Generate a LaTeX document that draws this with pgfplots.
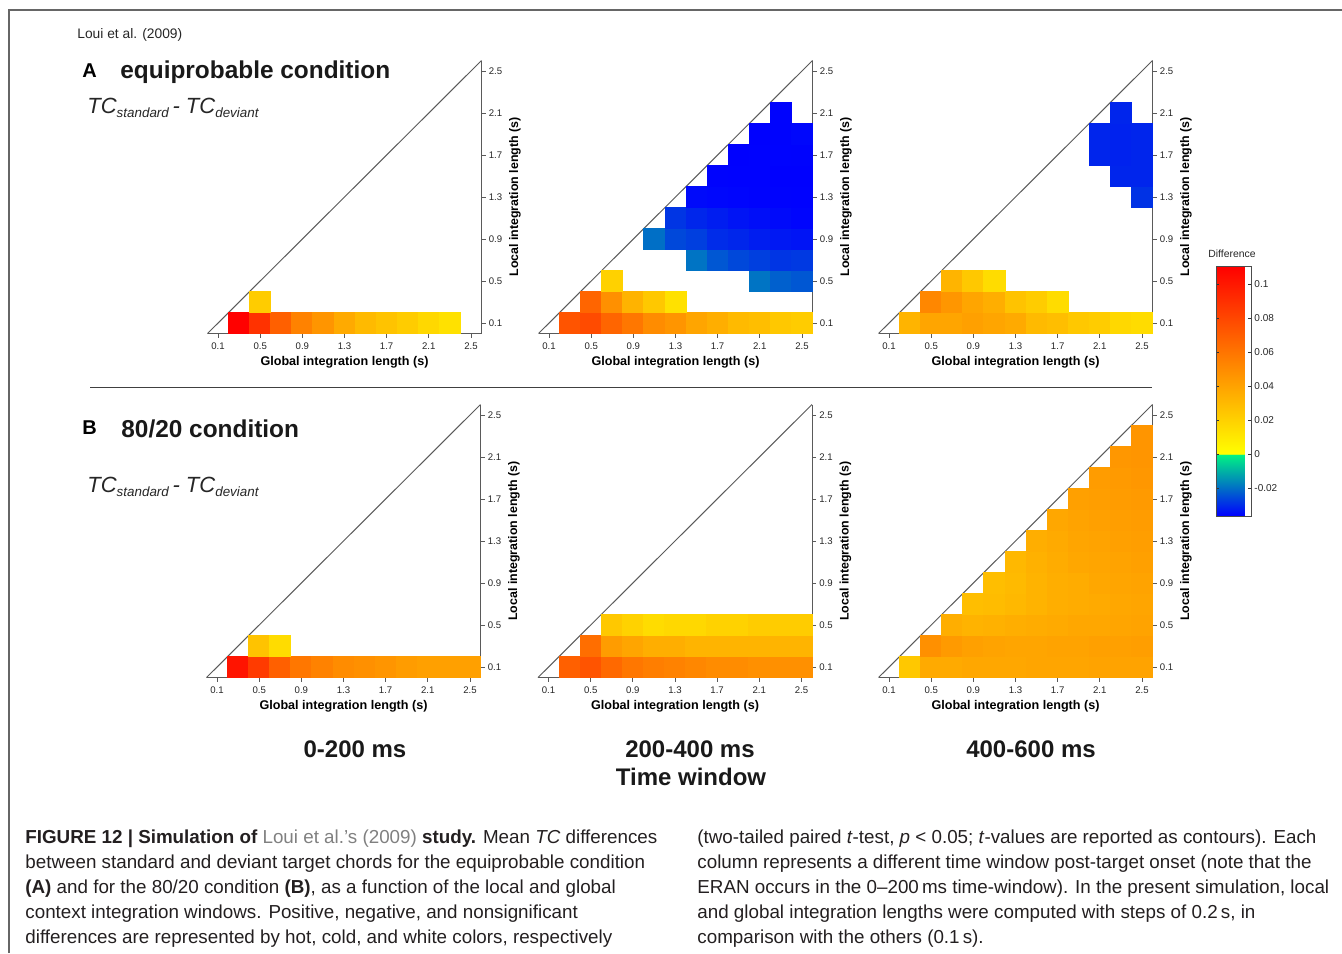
\documentclass[border=0pt]{standalone}
\usepackage{pgfplots}
\pgfplotsset{compat=1.18}
\usepackage{pgfplotstable}
\usepackage{fontspec}
\setmainfont{Liberation Sans}

\definecolor{axgray}{RGB}{90,90,90}
\definecolor{linkgray}{RGB}{128,128,128}
\definecolor{captxt}{RGB}{35,31,32}

\pgfplotsset{colormap={diffmap}{rgb255(0pt)=(0,0,255); rgb255(36.4pt)=(0,245,130); rgb255(36.5pt)=(255,255,0); rgb255(147.1pt)=(255,0,0)}}

\pgfplotsset{
 tri/.style={
  at={#1}, anchor=south west, scale only axis, width=137pt, height=136.5pt,
  xmin=0,xmax=2.6,ymin=0,ymax=2.6,
  axis x line=bottom, axis y line=right,
  axis line style={-, draw=axgray, line width=0.5pt},
  tick align=outside, major tick length=2pt,
  tick style={axgray, line width=0.4pt},
  xtick={0.1,0.5,0.9,1.3,1.7,2.1,2.5}, ytick={0.1,0.5,0.9,1.3,1.7,2.1,2.5},
  xticklabels={0.1,0.5,0.9,1.3,1.7,2.1,2.5}, yticklabels={0.1,0.5,0.9,1.3,1.7,2.1,2.5},
  tick label style={font=\fontsize{4.8}{5.5}\selectfont, text=black!85},
  xticklabel style={inner sep=2.5pt},
  yticklabel style={inner sep=1.5pt},
  xlabel={Global integration length (s)}, ylabel={Local integration length (s)},
  every axis x label/.style={at={(axis description cs:0.5,0)}, anchor=center, yshift=-14.25pt, font=\bfseries\fontsize{6.3}{7}\selectfont},
  every axis y label/.style={at={(axis description cs:1,0.5)}, xshift=16.75pt, anchor=center, rotate=90, font=\bfseries\fontsize{6.2}{7}\selectfont},
  colormap name=diffmap, point meta min=-0.0365, point meta max=0.1106,
  axis on top, clip=false,
 },
 heatcells/.style={scatter, only marks, mark=square*, mark size=5.27pt,
  scatter/use mapped color={draw=mapped color, fill=mapped color}, point meta=\thisrow{c}},
 diag/.style={axgray, line width=0.5pt, mark=none},
}

\pgfplotstableread{
x y c
0.3 0.1 0.110
0.5 0.1 0.089
0.7 0.1 0.069
0.9 0.1 0.054
1.1 0.1 0.046
1.3 0.1 0.037
1.5 0.1 0.030
1.7 0.1 0.026
1.9 0.1 0.022
2.1 0.1 0.017
2.3 0.1 0.013
0.5 0.3 0.022
}\Aone

\pgfplotstableread{
x y c
0.3 0.1 0.074
0.5 0.1 0.078
0.7 0.1 0.067
0.9 0.1 0.059
1.1 0.1 0.050
1.3 0.1 0.046
1.5 0.1 0.039
1.7 0.1 0.035
1.9 0.1 0.030
2.1 0.1 0.028
2.3 0.1 0.024
2.5 0.1 0.022
0.5 0.3 0.067
0.7 0.3 0.048
0.9 0.3 0.033
1.1 0.3 0.024
1.3 0.3 0.013
0.7 0.5 0.020
2.1 0.5 -0.0193
2.3 0.5 -0.0222
2.5 0.5 -0.0236
1.5 0.7 -0.0193
1.7 0.7 -0.0236
1.9 0.7 -0.0258
2.1 0.7 -0.0272
2.3 0.7 -0.0286
2.5 0.7 -0.0280
1.1 0.9 -0.0200
1.3 0.9 -0.0258
1.5 0.9 -0.0272
1.7 0.9 -0.0300
1.9 0.9 -0.0308
2.1 0.9 -0.0322
2.3 0.9 -0.0330
2.5 0.9 -0.0336
1.3 1.1 -0.0286
1.5 1.1 -0.0308
1.7 1.1 -0.0322
1.9 1.1 -0.0336
2.1 1.1 -0.0344
2.3 1.1 -0.0350
2.5 1.1 -0.0358
1.5 1.3 -0.0350
1.7 1.3 -0.0355
1.9 1.3 -0.0358
2.1 1.3 -0.0360
2.3 1.3 -0.0360
2.5 1.3 -0.0362
1.7 1.5 -0.0360
1.9 1.5 -0.0362
2.1 1.5 -0.0362
2.3 1.5 -0.0363
2.5 1.5 -0.0363
1.9 1.7 -0.0363
2.1 1.7 -0.0362
2.3 1.7 -0.0361
2.5 1.7 -0.0360
2.1 1.9 -0.0363
2.3 1.9 -0.0360
2.5 1.9 -0.0355
2.3 2.1 -0.0360
}\Atwo

\pgfplotstableread{
x y c
0.3 0.1 0.0325
0.5 0.1 0.039
0.7 0.1 0.039
0.9 0.1 0.041
1.1 0.1 0.039
1.3 0.1 0.037
1.5 0.1 0.030
1.7 0.1 0.028
1.9 0.1 0.024
2.1 0.1 0.022
2.3 0.1 0.017
2.5 0.1 0.015
0.5 0.3 0.052
0.7 0.3 0.0455
0.9 0.3 0.039
1.1 0.3 0.035
1.3 0.3 0.026
1.5 0.3 0.022
1.7 0.3 0.015
0.7 0.5 0.0325
0.9 0.5 0.024
1.1 0.5 0.015
2.5 1.3 -0.029
2.3 1.5 -0.031
2.5 1.5 -0.031
2.1 1.7 -0.031
2.3 1.7 -0.0315
2.5 1.7 -0.031
2.1 1.9 -0.031
2.3 1.9 -0.0315
2.5 1.9 -0.031
2.3 2.1 -0.031
}\Athree

\pgfplotstableread{
x y c
0.3 0.1 0.102
0.5 0.1 0.085
0.7 0.1 0.069
0.9 0.1 0.059
1.1 0.1 0.054
1.3 0.1 0.050
1.5 0.1 0.048
1.7 0.1 0.046
1.9 0.1 0.043
2.1 0.1 0.041
2.3 0.1 0.041
2.5 0.1 0.041
0.5 0.3 0.026
0.7 0.3 0.015
}\Bone

\pgfplotstableread{
x y c
0.3 0.1 0.069
0.5 0.1 0.074
0.7 0.1 0.065
0.9 0.1 0.059
1.1 0.1 0.056
1.3 0.1 0.054
1.5 0.1 0.052
1.7 0.1 0.050
1.9 0.1 0.050
2.1 0.1 0.048
2.3 0.1 0.048
2.5 0.1 0.048
0.5 0.3 0.063
0.7 0.3 0.043
0.9 0.3 0.039
1.1 0.3 0.035
1.3 0.3 0.035
1.5 0.3 0.0325
1.7 0.3 0.0325
1.9 0.3 0.0325
2.1 0.3 0.0325
2.3 0.3 0.0325
2.5 0.3 0.0325
0.7 0.5 0.024
0.9 0.5 0.0195
1.1 0.5 0.015
1.3 0.5 0.017
1.5 0.5 0.017
1.7 0.5 0.0195
1.9 0.5 0.0195
2.1 0.5 0.022
2.3 0.5 0.022
2.5 0.5 0.022
}\Btwo

\pgfplotstableread{
x y c
0.3 0.1 0.024
0.5 0.1 0.037
0.7 0.1 0.037
0.9 0.1 0.038
1.1 0.1 0.038
1.3 0.1 0.038
1.5 0.1 0.039
1.7 0.1 0.039
1.9 0.1 0.039
2.1 0.1 0.040
2.3 0.1 0.040
2.5 0.1 0.040
0.5 0.3 0.048
0.7 0.3 0.044
0.9 0.3 0.041
1.1 0.3 0.040
1.3 0.3 0.039
1.5 0.3 0.039
1.7 0.3 0.040
1.9 0.3 0.040
2.1 0.3 0.041
2.3 0.3 0.041
2.5 0.3 0.042
0.7 0.5 0.035
0.9 0.5 0.033
1.1 0.5 0.034
1.3 0.5 0.035
1.5 0.5 0.036
1.7 0.5 0.037
1.9 0.5 0.038
2.1 0.5 0.038
2.3 0.5 0.039
2.5 0.5 0.040
0.9 0.7 0.028
1.1 0.7 0.029
1.3 0.7 0.031
1.5 0.7 0.033
1.7 0.7 0.035
1.9 0.7 0.036
2.1 0.7 0.037
2.3 0.7 0.038
2.5 0.7 0.039
1.1 0.9 0.028
1.3 0.9 0.030
1.5 0.9 0.033
1.7 0.9 0.035
1.9 0.9 0.036
2.1 0.9 0.038
2.3 0.9 0.039
2.5 0.9 0.040
1.3 1.1 0.031
1.5 1.1 0.034
1.7 1.1 0.036
1.9 1.1 0.038
2.1 1.1 0.039
2.3 1.1 0.040
2.5 1.1 0.041
1.5 1.3 0.035
1.7 1.3 0.037
1.9 1.3 0.039
2.1 1.3 0.040
2.3 1.3 0.041
2.5 1.3 0.042
1.7 1.5 0.038
1.9 1.5 0.040
2.1 1.5 0.041
2.3 1.5 0.042
2.5 1.5 0.043
1.9 1.7 0.041
2.1 1.7 0.042
2.3 1.7 0.043
2.5 1.7 0.044
2.1 1.9 0.043
2.3 1.9 0.044
2.5 1.9 0.045
2.3 2.1 0.045
2.5 2.1 0.046
2.5 2.3 0.046
}\Bthree

\begin{document}
\begin{tikzpicture}
\useasboundingbox (0,0) rectangle (671pt,-476.5pt);

% ---------- row A ----------
\begin{axis}[tri={(103.75pt,-166.75pt)}]
\addplot[heatcells] table[x=x,y=y]{\Aone};
\addplot[diag] coordinates {(0,0) (2.6,2.6)};
\end{axis}
\begin{axis}[tri={(269.25pt,-166.75pt)}]
\addplot[heatcells] table[x=x,y=y]{\Atwo};
\addplot[diag] coordinates {(0,0) (2.6,2.6)};
\end{axis}
\begin{axis}[tri={(439.25pt,-166.75pt)}]
\addplot[heatcells] table[x=x,y=y]{\Athree};
\addplot[diag] coordinates {(0,0) (2.6,2.6)};
\end{axis}

% ---------- row B ----------
\begin{axis}[tri={(103.25pt,-338.75pt)}]
\addplot[heatcells] table[x=x,y=y]{\Bone};
\addplot[diag] coordinates {(0,0) (2.6,2.6)};
\end{axis}
\begin{axis}[tri={(269pt,-338.75pt)}]
\addplot[heatcells] table[x=x,y=y]{\Btwo};
\addplot[diag] coordinates {(0,0) (2.6,2.6)};
\end{axis}
\begin{axis}[tri={(439.25pt,-338.75pt)}]
\addplot[heatcells] table[x=x,y=y]{\Bthree};
\addplot[diag] coordinates {(0,0) (2.6,2.6)};
\end{axis}

% ---------- colorbar ----------
\begin{axis}[at={(599.5pt,-258pt)}, anchor=south west, scale only axis,
  width=17.5pt, height=125pt, hide axis, xmin=0, xmax=1, ymin=0, ymax=1,
  colormap name=diffmap, point meta min=-0.0365, point meta max=0.1106,
  colorbar,
  colorbar style={at={(parent axis.south west)}, anchor=south west, scale only axis,
    width=17.5pt, height=125pt,
    ytick={-0.02,0,0.02,0.04,0.06,0.08,0.1},
    yticklabels={-0.02,0,0.02,0.04,0.06,0.08,0.1},
    yticklabel style={font=\fontsize{5}{6}\selectfont, inner sep=1.5pt, text=black!85},
    tick align=inside, major tick length=1.5pt,
    axis line style={draw=black!70, line width=0.4pt},
    tick style={black!80, line width=0.4pt}}]
\addplot[draw=none, mark=none] coordinates {(0,0)};
\end{axis}

% ---------- texts ----------
\begin{scope}[x=0.5pt,y=-0.5pt]
\draw[black!60, line width=0.8pt] (9,953) -- (9,10) -- (1342,10);
\draw[black!75, line width=0.5pt] (90,387) -- (1152,387);
\node[anchor=base west, inner sep=0pt, font=\fontsize{6.9}{8}\selectfont, text=black!85] at (77,38) {Loui et al. (2009)};
\node[anchor=base west, inner sep=0pt, font=\bfseries\fontsize{10}{12}\selectfont] at (82,77) {A};
\node[anchor=base west, inner sep=0pt, font=\bfseries\fontsize{12.2}{14}\selectfont, text=black!90] at (120,78) {equiprobable condition};
\node[anchor=base west, inner sep=0pt, font=\itshape\fontsize{11}{13}\selectfont, text=black!85] at (87,113)
  {TC\raisebox{-2pt}{\fontsize{6.7}{7}\selectfont standard}\,- TC\raisebox{-2pt}{\fontsize{6.7}{7}\selectfont deviant}};
\node[anchor=base west, inner sep=0pt, font=\bfseries\fontsize{10}{12}\selectfont] at (82,434) {B};
\node[anchor=base west, inner sep=0pt, font=\bfseries\fontsize{12.2}{14}\selectfont, text=black!90] at (121,437) {80/20 condition};
\node[anchor=base west, inner sep=0pt, font=\itshape\fontsize{11}{13}\selectfont, text=black!85] at (87,492)
  {TC\raisebox{-2pt}{\fontsize{6.7}{7}\selectfont standard}\,- TC\raisebox{-2pt}{\fontsize{6.7}{7}\selectfont deviant}};
\node[font=\fontsize{5.2}{6}\selectfont, text=black!85] at (1232,254) {Difference};
\node[anchor=base, inner sep=0pt, font=\bfseries\fontsize{12}{14}\selectfont, text=black!90] at (355,757) {0-200 ms};
\node[anchor=base, inner sep=0pt, font=\bfseries\fontsize{12}{14}\selectfont, text=black!90] at (690,757) {200-400 ms};
\node[anchor=base, inner sep=0pt, font=\bfseries\fontsize{12}{14}\selectfont, text=black!90] at (691,785) {Time window};
\node[anchor=base, inner sep=0pt, font=\bfseries\fontsize{12}{14}\selectfont, text=black!90] at (1031,757) {400-600 ms};
% caption
\begin{scope}[every node/.style={anchor=base west, inner sep=0pt, font=\fontsize{9.4}{11}\selectfont, text=captxt}]
\node at (25,843) {\textbf{FIGURE 12 | Simulation of }\textcolor{linkgray}{Loui et al.’s (2009)}\textbf{ study.} Mean \textit{TC} differences};
\node at (25,868) {between standard and deviant target chords for the equiprobable condition};
\node at (25,893) {\textbf{(A)} and for the 80/20 condition \textbf{(B)}, as a function of the local and global};
\node at (25,918) {context integration windows. Positive, negative, and nonsignificant};
\node at (25,943) {differences are represented by hot, cold, and white colors, respectively};
\node at (697,843) {(two-tailed paired \textit{t}-test, \textit{p} < 0.05; \textit{t}-values are reported as contours). Each};
\node at (697,868) {column represents a different time window post-target onset (note that the};
\node at (697,893) {ERAN occurs in the 0–200\,ms time-window). In the present simulation, local};
\node at (697,918) {and global integration lengths were computed with steps of 0.2\,s, in};
\node at (697,943) {comparison with the others (0.1\,s).};
\end{scope}
\end{scope}
\end{tikzpicture}
\end{document}
